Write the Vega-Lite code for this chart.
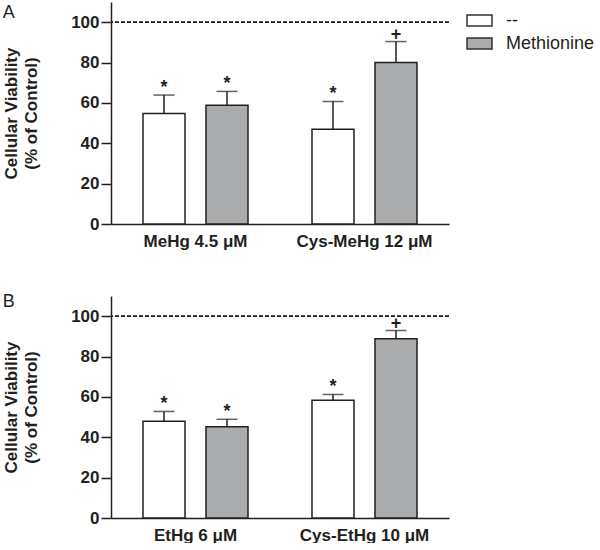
{
  "$schema": "https://vega.github.io/schema/vega-lite/v6.json",
  "padding": {"left": 2, "top": 2, "right": 0, "bottom": 0},
  "background": "white",
  "config": {
    "view": {"stroke": null},
    "font": "Liberation Sans",
    "axis": {"labelFont": "Liberation Sans", "titleFont": "Liberation Sans", "domainColor": "#231f20", "tickColor": "#231f20", "labelColor": "#231f20", "titleColor": "#231f20", "domainWidth": 1.5, "tickWidth": 1.5, "grid": false},
    "axisY": {"values": [0, 20, 40, 60, 80, 100], "tickSize": 10, "labelFontSize": 17, "labelFontWeight": "bold", "labelPadding": 2, "titleFontSize": 17, "titleFontWeight": "bold", "titleLineHeight": 20, "titlePadding": 30},
    "legend": {"labelFont": "Liberation Sans"}
  },
  "data": {
    "values": [
      {"panel": "A", "group": "MeHg 4.5 μM", "treatment": "--", "value": 54.8, "upper": 63.9, "sig": "*"},
      {"panel": "A", "group": "MeHg 4.5 μM", "treatment": "Methionine", "value": 58.8, "upper": 65.7, "sig": "*"},
      {"panel": "A", "group": "Cys-MeHg 12 μM", "treatment": "--", "value": 46.9, "upper": 60.7, "sig": "*"},
      {"panel": "A", "group": "Cys-MeHg 12 μM", "treatment": "Methionine", "value": 80.0, "upper": 90.4, "sig": "+"},
      {"panel": "B", "group": "EtHg 6 μM", "treatment": "--", "value": 47.9, "upper": 52.8, "sig": "*"},
      {"panel": "B", "group": "EtHg 6 μM", "treatment": "Methionine", "value": 45.2, "upper": 48.9, "sig": "*"},
      {"panel": "B", "group": "Cys-EtHg 10 μM", "treatment": "--", "value": 58.4, "upper": 61.2, "sig": "*"},
      {"panel": "B", "group": "Cys-EtHg 10 μM", "treatment": "Methionine", "value": 88.8, "upper": 92.9, "sig": "+"}
    ]
  },
  "spacing": 44,
  "resolve": {"scale": {"color": "independent", "x": "independent"}, "legend": {"color": "independent"}},
  "vconcat": [
    {
      "title": {"text": "A", "anchor": "start", "frame": "bounds", "offset": -20, "fontSize": 18, "fontWeight": "normal", "color": "#231f20", "font": "Liberation Sans"},
      "width": 338,
      "height": 222,
      "transform": [{"filter": "datum.panel === 'A'"}],
      "encoding": {
        "x": {"field": "group", "type": "nominal", "sort": ["MeHg 4.5 μM", "Cys-MeHg 12 μM"], "scale": {"paddingInner": 0, "paddingOuter": 0}, "axis": {"title": null, "labelAngle": 0, "ticks": false, "labelFontSize": 17, "labelFontWeight": "bold", "labelPadding": 9}},
        "xOffset": {"field": "treatment", "type": "nominal", "sort": ["--", "Methionine"], "scale": {"paddingInner": 0.333, "paddingOuter": 0.508}}
      },
      "layer": [
        {
          "mark": {"type": "bar", "stroke": "#231f20", "strokeWidth": 1.5},
          "encoding": {
            "y": {"field": "value", "type": "quantitative", "scale": {"domain": [0, 110], "nice": false}, "axis": {"title": ["Cellular Viability", "(% of Control)"]}},
            "fill": {"field": "treatment", "type": "nominal", "sort": ["--", "Methionine"], "scale": {"domain": ["--", "Methionine"], "range": ["#ffffff", "#aaabad"]}, "legend": {"title": null, "orient": "none", "legendX": 355, "legendY": 5, "padding": 0, "symbolType": "M-1,-0.44L1,-0.44L1,0.44L-1,0.44Z", "symbolSize": 625, "symbolStrokeColor": "#333333", "symbolStrokeWidth": 1.5, "labelFontSize": 18, "labelColor": "#231f20", "labelOffset": 13, "rowPadding": 0}}
          }
        },
        {
          "mark": {"type": "rule", "color": "#231f20", "strokeWidth": 1.5},
          "encoding": {"y": {"field": "value", "type": "quantitative"}, "y2": {"field": "upper"}}
        },
        {
          "mark": {"type": "tick", "color": "#231f20", "thickness": 1.5, "size": 21, "orient": "horizontal"},
          "encoding": {"y": {"field": "upper", "type": "quantitative"}}
        },
        {
          "mark": {"type": "text", "baseline": "bottom", "dy": 2, "fontSize": 18, "fontWeight": "bold", "color": "#231f20"},
          "encoding": {"y": {"field": "upper", "type": "quantitative"}, "text": {"field": "sig"}}
        },
        {
          "mark": {"type": "rule", "strokeDash": [4, 2], "strokeWidth": 1, "color": "#231f20"},
          "encoding": {"x": null, "xOffset": null, "y": {"datum": 100, "type": "quantitative"}}
        }
      ]
    },
    {
      "title": {"text": "B", "anchor": "start", "frame": "bounds", "offset": -15, "fontSize": 18, "fontWeight": "normal", "color": "#231f20", "font": "Liberation Sans"},
      "width": 338,
      "height": 222,
      "transform": [{"filter": "datum.panel === 'B'"}],
      "encoding": {
        "x": {"field": "group", "type": "nominal", "sort": ["EtHg 6 μM", "Cys-EtHg 10 μM"], "scale": {"paddingInner": 0, "paddingOuter": 0}, "axis": {"title": null, "labelAngle": 0, "ticks": false, "labelFontSize": 17, "labelFontWeight": "bold", "labelPadding": 9}},
        "xOffset": {"field": "treatment", "type": "nominal", "sort": ["--", "Methionine"], "scale": {"paddingInner": 0.333, "paddingOuter": 0.508}}
      },
      "layer": [
        {
          "mark": {"type": "bar", "stroke": "#231f20", "strokeWidth": 1.5},
          "encoding": {
            "y": {"field": "value", "type": "quantitative", "scale": {"domain": [0, 110], "nice": false}, "axis": {"title": ["Cellular Viability", "(% of Control)"]}},
            "fill": {"field": "treatment", "type": "nominal", "sort": ["--", "Methionine"], "scale": {"domain": ["--", "Methionine"], "range": ["#ffffff", "#aaabad"]}, "legend": {"title": null, "orient": "none", "legendX": 355, "legendY": 5, "padding": 0, "symbolType": "M-1,-0.44L1,-0.44L1,0.44L-1,0.44Z", "symbolSize": 625, "symbolStrokeColor": "#333333", "symbolStrokeWidth": 1.5, "labelFontSize": 18, "labelColor": "#231f20", "labelOffset": 13, "rowPadding": 0}}
          }
        },
        {
          "mark": {"type": "rule", "color": "#231f20", "strokeWidth": 1.5},
          "encoding": {"y": {"field": "value", "type": "quantitative"}, "y2": {"field": "upper"}}
        },
        {
          "mark": {"type": "tick", "color": "#231f20", "thickness": 1.5, "size": 21, "orient": "horizontal"},
          "encoding": {"y": {"field": "upper", "type": "quantitative"}}
        },
        {
          "mark": {"type": "text", "baseline": "bottom", "dy": 2, "fontSize": 18, "fontWeight": "bold", "color": "#231f20"},
          "encoding": {"y": {"field": "upper", "type": "quantitative"}, "text": {"field": "sig"}}
        },
        {
          "mark": {"type": "rule", "strokeDash": [4, 2], "strokeWidth": 1, "color": "#231f20"},
          "encoding": {"x": null, "xOffset": null, "y": {"datum": 100, "type": "quantitative"}}
        }
      ]
    }
  ]
}
